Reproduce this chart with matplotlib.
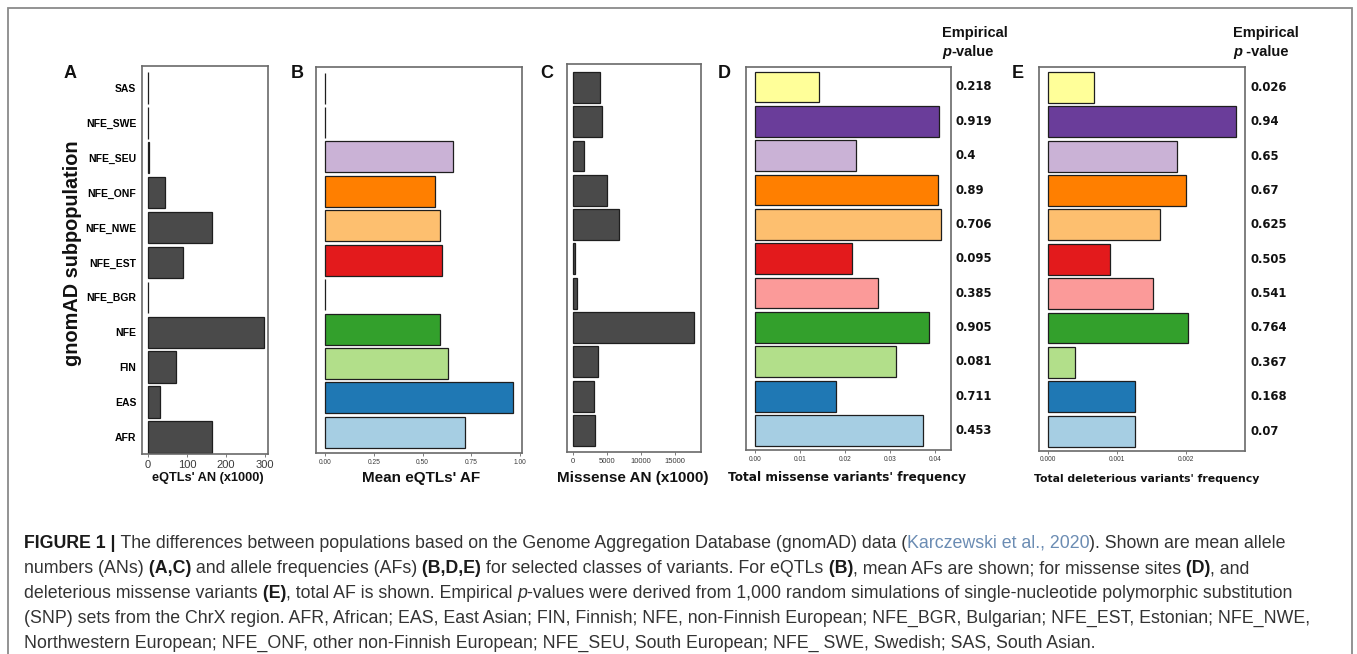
import matplotlib
matplotlib.use('Agg')
import matplotlib.pyplot as plt
from matplotlib.patches import Rectangle
from matplotlib.transforms import blended_transform_factory

# populations, bottom to top
pops = ['AFR', 'EAS', 'FIN', 'NFE', 'NFE_BGR', 'NFE_EST', 'NFE_NWE',
        'NFE_ONF', 'NFE_SEU', 'NFE_SWE', 'SAS']
pop_colors = ['#A6CEE3', '#1F78B4', '#B2DF8A', '#33A02C', '#FB9A99', '#E31A1C',
              '#FDBF6F', '#FF7F00', '#CAB2D6', '#6A3D9A', '#FFFF99']

eqtl_an = [164, 31, 73, 297, 1, 91, 165, 44, 3.5, 1, 1]
eqtl_af = [0.72, 0.964, 0.632, 0.591, 0, 0.598, 0.591, 0.566, 0.655, 0, 0]
missense_an = [3210, 3020, 3610, 17900, 500, 250, 6760, 4940, 1540, 4200, 3900]
missense_freq = [0.0373, 0.0180, 0.0313, 0.0387, 0.0273, 0.0215, 0.0414,
                 0.0407, 0.0224, 0.0408, 0.01415]
delet_freq = [0.00126, 0.00126, 0.000393, 0.00203, 0.00152, 0.000898, 0.00163,
              0.00201, 0.00187, 0.00273, 0.000665]
p_missense = ['0.453', '0.711', '0.081', '0.905', '0.385', '0.095', '0.706',
              '0.89', '0.4', '0.919', '0.218']
p_delet = ['0.07', '0.168', '0.367', '0.764', '0.541', '0.505', '0.625',
           '0.67', '0.65', '0.94', '0.026']

W, H = 1357, 654
fig = plt.figure(figsize=(W / 100, H / 100), dpi=100)
r = fig.canvas.get_renderer()

SANS = 'Liberation Sans'
VERD = 'DejaVu Sans'


def box(l, t, rr, b):
    return [l / W, 1 - b / H, (rr - l) / W, (b - t) / H]


def fx(px):
    return px / W


def fy(py):
    return 1 - py / H


def segments(x, y, segs, **base):
    # draw a line of differently styled pieces one after another
    texts = []
    for s, kw in segs:
        opts = dict(base)
        opts.update(kw)
        t = fig.text(x, y, s, va='baseline', **opts)
        texts.append(t)
        x += t.get_window_extent(r).width / fig.bbox.width
    return texts, x


def panel(rect, values, face, xlim, ylim, ticks, ticklabels, tsize, tfont='Liberation Sans'):
    ax = fig.add_axes(rect)
    ypos = list(range(len(pops)))
    ax.barh(ypos, values, height=0.9, color=face, edgecolor='#1e1e1e', linewidth=0.9)
    ax.set_xlim(*xlim)
    ax.set_ylim(*ylim)
    ax.set_yticks([])
    ax.set_xticks(ticks)
    ax.set_xticklabels(ticklabels, fontsize=tsize, family=tfont, color='#3a3a3a')
    ax.tick_params(axis='x', length=2, width=0.6, color='#666666', pad=2)
    for sp in ax.spines.values():
        sp.set_color('#6a6a6a')
        sp.set_linewidth(1.2)
    return ax


# A
axA = panel(box(142, 66, 268, 454), eqtl_an, '#4a4a4a', (-15.4, 307.7), (-0.49, 10.63),
            [0, 100, 200, 300], ['0', '100', '200', '300'], 8)
axA.set_yticks(range(len(pops)))
axA.set_yticklabels(pops, fontsize=7.5, fontweight='bold', family=SANS)
axA.tick_params(axis='y', length=0, pad=4)

# B
panel(box(316, 66.7, 522, 453), eqtl_af, pop_colors, (-0.046, 1.01), (-0.6, 10.62),
      [0, 0.25, 0.5, 0.75, 1.0], ['0.00', '0.25', '0.50', '0.75', '1.00'], 4.8)

# C
panel(box(567, 64, 701, 452), missense_an, '#4a4a4a', (-932, 18890), (-0.63, 10.68),
      [0, 5000, 10000, 15000], ['0', '5000', '10000', '15000'], 5.5)

# D
axD = panel(box(746, 66.7, 951, 450), missense_freq, pop_colors, (-0.002, 0.04356), (-0.57, 10.59),
            [0, 0.01, 0.02, 0.03, 0.04], ['0.00', '0.01', '0.02', '0.03', '0.04'], 4.8)

# E
axE = panel(box(1039, 66.7, 1245, 450.7), delet_freq, pop_colors, (-0.000135, 0.002863), (-0.57, 10.6),
            [0, 0.001, 0.002], ['0.000', '0.001', '0.002'], 4.8)

for ax, pv, dx in [(axD, p_missense, 0.023), (axE, p_delet, 0.028)]:
    tr = blended_transform_factory(ax.transAxes, ax.transData)
    for i, p in enumerate(pv):
        ax.text(1 + dx, i, p, transform=tr, ha='left', va='center', fontsize=8.4,
                fontweight='bold', family=VERD, color='#111111', clip_on=False)

# panel letters
for letter, px, py in [('A', 70, 73), ('B', 297, 73), ('C', 547, 74), ('D', 724, 73), ('E', 1018, 73)]:
    fig.text(fx(px), fy(py), letter, ha='center', va='center', fontsize=13,
             fontweight='bold', family=SANS, color='#111111')

# axis titles
fig.text(fx(72), fy(253), 'gnomAD subpopulation', rotation=90, ha='center', va='center',
         fontsize=14.3, fontweight='bold', family=SANS, color='#111111')
fig.text(fx(208), fy(478), "eQTLs' AN (x1000)", ha='center', va='center',
         fontsize=9.2, fontweight='bold', family=SANS, color='#111111')
fig.text(fx(421), fy(478), "Mean eQTLs' AF", ha='center', va='center',
         fontsize=11, fontweight='bold', family=SANS, color='#111111')
fig.text(fx(633), fy(478), "Missense AN (x1000)", ha='center', va='center',
         fontsize=11, fontweight='bold', family=SANS, color='#111111')
fig.text(fx(847), fy(478), "Total missense variants' frequency", ha='center', va='center',
         fontsize=8.7, fontweight='bold', family=VERD, color='#111111')
fig.text(fx(1147), fy(479), "Total deleterious variants' frequency", ha='center', va='center',
         fontsize=7.8, fontweight='bold', family=VERD, color='#111111')

# p-value headers
for px, dash in [(942, '-value'), (1233, ' -value')]:
    fig.text(fx(px), fy(37), 'Empirical', ha='left', va='baseline', fontsize=10.5,
             fontweight='bold', family=SANS, color='#111111')
    segments(fx(px), fy(56), [('p', dict(fontstyle='italic')), (dash, {})],
             fontsize=10.5, fontweight='bold', family=SANS, color='#111111')

# outer frame
fig.add_artist(Rectangle((fx(8), -0.1), fx(1344), fy(8) + 0.1, transform=fig.transFigure,
                         fill=False, edgecolor='#8a8a8a', linewidth=1.3))

# caption
B = dict(fontweight='bold', color='#1a1a1a')
LINK = dict(color='#6b8cb3')
cap_lines = [
    [('FIGURE 1 |', B),
     (' The differences between populations based on the Genome Aggregation Database (gnomAD) data (', {}),
     ('Karczewski et al., 2020', LINK), ('). Shown are mean allele', {})],
    [('numbers (ANs)', {}), (' (A,C)', B), (' and allele frequencies (AFs)', {}), (' (B,D,E)', B),
     (' for selected classes of variants. For eQTLs', {}), (' (B)', B),
     (', mean AFs are shown; for missense sites', {}), (' (D)', B), (', and', {})],
    [('deleterious missense variants', {}), (' (E)', B), (', total AF is shown. Empirical ', {}),
     ('p', dict(fontstyle='italic')),
     ('-values were derived from 1,000 random simulations of single-nucleotide polymorphic substitution', {})],
    [('(SNP) sets from the ChrX region. AFR, African; EAS, East Asian; FIN, Finnish; NFE, non-Finnish '
      'European; NFE_BGR, Bulgarian; NFE_EST, Estonian; NFE_NWE,', {})],
    [('Northwestern European; NFE_ONF, other non-Finnish European; NFE_SEU, South European; '
      'NFE_ SWE, Swedish; SAS, South Asian.', {})],
]

# fit the caption font so the first line spans the same width as in the figure
trial, end = segments(0, 0, cap_lines[0], fontsize=14, family=SANS)
cap_size = 14 * fx(1266) / end
for t in trial:
    t.remove()

for k, segs in enumerate(cap_lines):
    segments(fx(24), fy(548 + 25 * k), segs, fontsize=cap_size, family=SANS, color='#333333')

fig.savefig('out.png', dpi=100)
